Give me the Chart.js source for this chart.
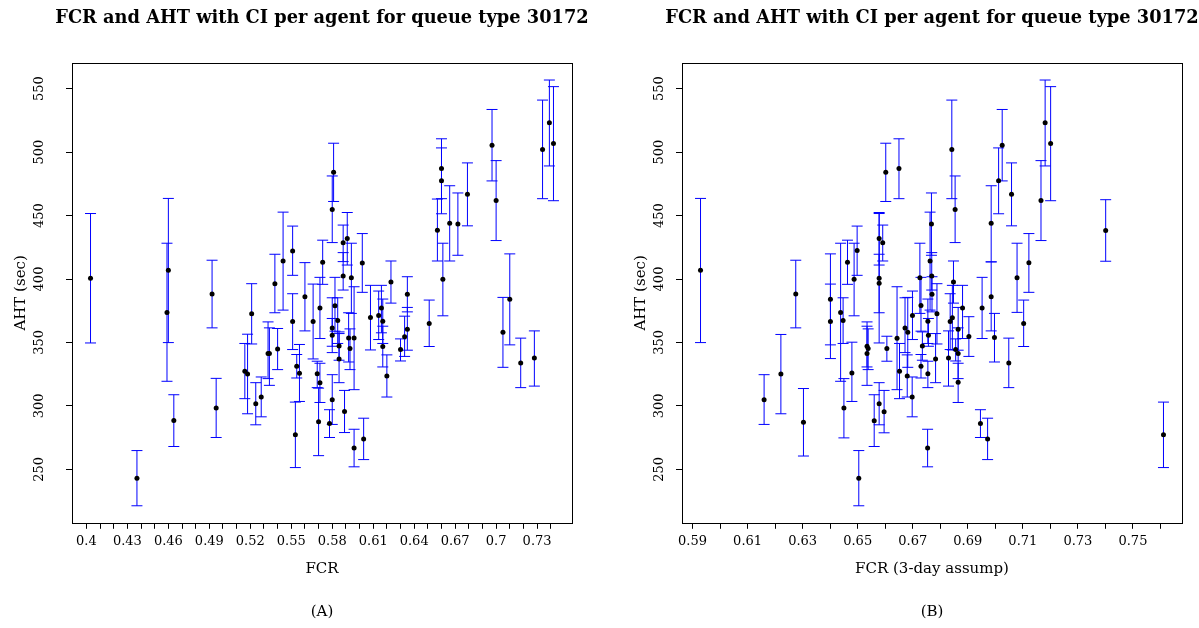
<!DOCTYPE html>
<html>
<head>
<meta charset="utf-8">
<script src="https://cdn.jsdelivr.net/npm/chart.js@4.4.1/dist/chart.umd.min.js"></script>
<style>
  body { margin: 0; background: #fff; }
  canvas { position: absolute; top: 0; }
  #chartA { left: 0; }
  #chartB { left: 600px; }
</style>
</head>
<body>
<canvas id="chartA" width="600" height="628"></canvas>
<canvas id="chartB" width="599" height="628"></canvas>
<script>
const titleText = "FCR and AHT with CI per agent for queue type 30172";
const yTicks = [250, 300, 350, 400, 450, 500, 550];

// (A) FCR
const fcrA = [0.403, 0.460, 0.459, 0.437, 0.464, 0.492, 0.495, 0.516, 0.518, 0.521,
  0.524, 0.528, 0.533, 0.534, 0.538, 0.540, 0.544, 0.551, 0.551, 0.554,
  0.556, 0.553, 0.560, 0.566, 0.569, 0.571, 0.571, 0.573, 0.570, 0.581,
  0.580, 0.582, 0.580, 0.580, 0.580, 0.578, 0.584, 0.585, 0.585, 0.588,
  0.591, 0.588, 0.594, 0.592, 0.596, 0.593, 0.589, 0.596, 0.603, 0.602,
  0.608, 0.614, 0.616, 0.617, 0.617, 0.620, 0.623, 0.630, 0.633, 0.635,
  0.635, 0.651, 0.657, 0.660, 0.660, 0.661, 0.666, 0.672, 0.679, 0.697,
  0.700, 0.705, 0.710, 0.718, 0.728, 0.734, 0.739, 0.742];
const ahtA = [400.6, 406.9, 373.7, 242.9, 288.5, 388.1, 298.3, 327.3, 325.1, 372.6,
  301.7, 307.0, 341.3, 341.3, 396.3, 344.9, 414.2, 422.1, 366.6, 331.2,
  325.7, 277.2, 386.0, 366.6, 325.4, 318.3, 377.1, 413.2, 287.5, 484.1,
  454.8, 378.9, 361.3, 355.7, 304.9, 286.1, 367.3, 347.3, 337.0, 428.5,
  431.9, 402.4, 401.0, 353.6, 353.6, 345.2, 295.6, 266.9, 274.0, 412.7,
  369.7, 371.3, 377.1, 366.8, 346.8, 323.5, 397.6, 344.4, 354.4, 360.5,
  387.9, 365.0, 438.5, 477.5, 487.0, 399.8, 444.0, 443.3, 466.7, 505.4,
  461.9, 358.1, 384.0, 333.8, 337.8, 502.0, 523.1, 506.8];
const loA = [349.6, 349.9, 319.4, 221.3, 268.0, 361.5, 275.1, 305.7, 293.8, 348.8,
  285.1, 291.4, 321.5, 316.2, 373.4, 328.6, 375.5, 402.9, 344.4, 322.0,
  303.5, 251.4, 359.1, 337.0, 314.4, 302.7, 353.1, 395.8, 260.8, 461.1,
  428.7, 358.9, 342.0, 347.0, 285.4, 275.1, 349.2, 336.0, 318.3, 413.7,
  411.0, 391.3, 372.9, 334.6, 312.8, 328.6, 279.0, 252.0, 257.7, 389.5,
  344.1, 352.3, 357.6, 349.2, 330.7, 307.0, 381.0, 335.4, 339.0, 343.9,
  374.1, 346.8, 414.2, 451.4, 463.3, 371.0, 414.2, 418.7, 441.9, 477.3,
  430.3, 330.4, 348.1, 314.4, 315.6, 463.3, 489.1, 461.7];
const hiA = [451.6, 463.5, 428.2, 264.8, 308.8, 414.8, 321.7, 349.2, 356.5, 396.3,
  318.3, 322.8, 366.2, 361.5, 419.5, 361.0, 452.7, 441.7, 388.4, 340.5,
  348.4, 303.0, 412.9, 396.0, 335.2, 333.6, 401.3, 430.6, 314.0, 507.0,
  481.2, 401.3, 385.2, 368.9, 324.6, 297.0, 385.2, 358.3, 357.0, 442.5,
  452.4, 420.8, 428.2, 373.4, 393.9, 360.7, 312.2, 281.6, 290.3, 435.8,
  395.0, 390.5, 395.0, 384.2, 362.8, 340.2, 414.2, 352.8, 370.7, 377.6,
  401.8, 383.4, 463.0, 503.3, 510.5, 428.2, 473.5, 467.8, 491.5, 533.6,
  493.3, 385.5, 419.8, 353.4, 359.1, 541.0, 556.8, 551.6];
const xLabelsA = [0.4, 0.43, 0.46, 0.49, 0.52, 0.55, 0.58, 0.61, 0.64, 0.67, 0.7, 0.73];

// (B) FCR, 3-day assumption
const fcrB = [0.5929, 0.6160, 0.6221, 0.6275, 0.6303, 0.6401, 0.6401, 0.6438, 0.6447, 0.6450,
  0.6463, 0.6479, 0.6487, 0.6498, 0.6504, 0.6534, 0.6538, 0.6534, 0.6560, 0.6578,
  0.6596, 0.6578, 0.6591, 0.6578, 0.6578, 0.6602, 0.6606, 0.6650, 0.6643, 0.6652,
  0.6672, 0.6682, 0.6680, 0.6698, 0.6699, 0.6726, 0.6730, 0.6735, 0.6730, 0.6755,
  0.6755, 0.6757, 0.6754, 0.6763, 0.6768, 0.6769, 0.6770, 0.6788, 0.6783, 0.6842,
  0.6854, 0.6848, 0.6836, 0.6844, 0.6830, 0.6856, 0.6865, 0.6865, 0.6865, 0.6881,
  0.6904, 0.6952, 0.6946, 0.6972, 0.6985, 0.6985, 0.6997, 0.7012, 0.7025, 0.7059,
  0.7049, 0.7079, 0.7103, 0.7122, 0.7166, 0.7181, 0.7201, 0.7401, 0.7611];
const ahtB = [406.9, 304.9, 325.1, 388.1, 287.2, 384.0, 366.6, 373.7, 367.3, 298.3,
  413.2, 325.9, 399.8, 422.4, 242.9, 347.0, 345.2, 341.3, 288.3, 301.7,
  295.4, 431.9, 428.5, 400.6, 396.6, 484.1, 345.2, 487.0, 353.4, 327.3,
  361.3, 358.1, 323.5, 307.0, 371.3, 401.0, 379.2, 347.3, 331.2, 366.8,
  325.4, 355.7, 266.9, 414.2, 443.3, 402.4, 387.9, 372.6, 337.0, 502.0,
  454.8, 397.6, 366.6, 369.4, 337.8, 344.4, 360.5, 341.3, 318.6, 377.1,
  354.7, 377.1, 286.1, 274.0, 444.0, 386.0, 353.9, 477.5, 505.4, 466.7,
  333.8, 401.0, 365.0, 412.9, 461.9, 523.1, 506.8, 438.2, 277.2];
const loB = [349.9, 285.4, 293.8, 361.5, 260.5, 348.1, 337.3, 319.4, 349.2, 274.8,
  395.8, 303.5, 371.0, 402.9, 221.3, 330.7, 328.6, 316.2, 268.0, 285.1,
  278.8, 411.0, 414.2, 349.6, 373.4, 461.1, 335.2, 463.3, 312.8, 305.7,
  342.0, 330.4, 307.0, 291.4, 352.3, 372.9, 358.9, 336.0, 322.0, 349.2,
  314.4, 347.0, 252.0, 375.5, 418.7, 391.3, 374.1, 348.8, 318.3, 463.3,
  428.7, 381.0, 344.4, 344.1, 315.6, 335.4, 343.9, 321.5, 302.7, 353.1,
  339.0, 353.1, 275.1, 257.7, 413.5, 359.1, 334.6, 451.4, 477.3, 441.9,
  314.4, 373.7, 346.8, 389.5, 430.3, 489.1, 461.7, 414.0, 251.4];
const hiB = [463.5, 324.6, 356.3, 414.8, 313.7, 419.8, 396.0, 428.2, 385.2, 321.5,
  430.6, 350.2, 428.2, 441.7, 264.8, 362.8, 360.7, 366.2, 308.8, 318.3,
  312.2, 452.4, 442.5, 451.6, 419.5, 507.0, 354.9, 510.5, 393.9, 349.2,
  385.2, 385.5, 340.2, 322.8, 390.5, 428.2, 401.3, 358.3, 340.5, 384.2,
  335.2, 368.9, 281.6, 452.7, 467.8, 420.8, 401.8, 396.3, 357.0, 541.0,
  481.2, 414.2, 388.4, 395.0, 359.1, 352.8, 377.6, 361.5, 333.6, 395.0,
  370.3, 401.3, 297.0, 290.3, 473.5, 413.5, 372.9, 503.3, 533.6, 491.5,
  353.4, 428.2, 383.4, 435.8, 493.3, 556.8, 551.6, 462.5, 303.0];
const xLabelsB = [0.59, 0.61, 0.63, 0.65, 0.67, 0.69, 0.71, 0.73, 0.75];

Chart.defaults.color = "#000";
Chart.defaults.font.family = "DejaVu Serif";

// R-style 4% padding around the data
function padRange(lo, hi) {
  const d = (hi - lo) * 0.04;
  return [lo - d, hi + d];
}

const yRange = padRange(Math.min(...loA, ...loB), Math.max(...hiA, ...hiB));

const errorBars = {
  id: "errorBars",
  beforeDatasetsDraw(chart) {
    const { ctx, scales: { x, y } } = chart;
    ctx.save();
    ctx.strokeStyle = "#0000ff";
    ctx.lineWidth = 1;
    chart.data.datasets[0].data.forEach(p => {
      const px = x.getPixelForValue(p.x);
      const top = y.getPixelForValue(p.hi);
      const bot = y.getPixelForValue(p.lo);
      ctx.beginPath();
      ctx.moveTo(px, top); ctx.lineTo(px, bot);
      ctx.moveTo(px - 5.5, top); ctx.lineTo(px + 5.5, top);
      ctx.moveTo(px - 5.5, bot); ctx.lineTo(px + 5.5, bot);
      ctx.stroke();
    });
    ctx.restore();
  },
  afterDraw(chart) {
    const { ctx, chartArea: a } = chart;
    ctx.save();
    ctx.strokeStyle = "#000";
    ctx.lineWidth = 1;
    ctx.strokeRect(Math.round(a.left) + 0.5, Math.round(a.top) + 0.5,
      Math.round(a.right - a.left), Math.round(a.bottom - a.top));
    // panel heading, centred over the plot box (wider than the box, so not clipped)
    ctx.fillStyle = "#000";
    ctx.font = "bold 17.8px 'DejaVu Serif'";
    ctx.textAlign = "center";
    ctx.textBaseline = "middle";
    ctx.fillText(titleText, (a.left + a.right) / 2, 18);
    ctx.restore();
  }
};

function makeChart(id, fcr, aht, lo, hi, xLabels, xFrom, xTo, xTitle, panel, geo) {
  const xRange = padRange(Math.min(...fcr), Math.max(...fcr));
  const xTicks = [];
  for (let v = Math.round(xFrom * 100); v <= Math.round(xTo * 100); v++) xTicks.push(v / 100);

  return new Chart(document.getElementById(id), {
    type: "scatter",
    data: {
      datasets: [{
        data: fcr.map((x, i) => ({ x, y: aht[i], lo: lo[i], hi: hi[i] })),
        backgroundColor: "#000",
        borderWidth: 0,
        pointRadius: 2.5,
        pointHoverRadius: 2.5
      }]
    },
    options: {
      responsive: false,
      animation: false,
      events: [],
      layout: { padding: { left: 0, right: geo.right, top: 63, bottom: 0 } },
      plugins: {
        legend: { display: false },
        tooltip: { enabled: false },
        title: { display: false },
        subtitle: {
          display: true, text: panel, position: "bottom", fullSize: false,
          font: { size: 15, lineHeight: 1.2 },
          padding: { top: 0, bottom: 7 }
        }
      },
      scales: {
        x: {
          type: "linear",
          min: xRange[0], max: xRange[1],
          afterBuildTicks: s => { s.ticks = xTicks.map(v => ({ value: v })); },
          afterFit: s => { s.height = 80.2; },
          grid: { drawOnChartArea: false, tickLength: 6, color: "#000" },
          border: { display: false },
          ticks: {
            autoSkip: false, maxRotation: 0, minRotation: 0, padding: 5.2,
            font: { size: 13, lineHeight: 1.2 },
            callback: v => {
              const hit = xLabels.find(l => Math.abs(l - v) < 1e-6);
              return hit === undefined ? "" : String(hit);
            }
          },
          title: {
            display: true, text: xTitle,
            font: { size: 15, lineHeight: 1.2 },
            padding: { top: 0, bottom: 25.2 }
          }
        },
        y: {
          min: yRange[0], max: yRange[1],
          afterBuildTicks: s => { s.ticks = yTicks.map(v => ({ value: v })); },
          afterFit: s => { s.width = geo.yWidth; },
          grid: { drawOnChartArea: false, tickLength: 6, color: "#000" },
          border: { display: false },
          ticks: {
            minRotation: 90, maxRotation: 90, crossAlign: "center",
            padding: geo.yTickPad,
            font: { size: 13, lineHeight: 1.2 },
            callback: v => String(v)
          },
          title: {
            display: true, text: "AHT (sec)",
            font: { size: 15, lineHeight: 1.2 },
            padding: { top: geo.yTitlePad, bottom: 0 }
          }
        }
      }
    },
    plugins: [errorBars]
  });
}

makeChart("chartA", fcrA, ahtA, loA, hiA, xLabelsA, 0.40, 0.74, "FCR", "(A)",
  { right: 28, yWidth: 72, yTickPad: 13.6, yTitlePad: 12 });
makeChart("chartB", fcrB, ahtB, loB, hiB, xLabelsB, 0.59, 0.76, "FCR (3-day assump)", "(B)",
  { right: 17, yWidth: 82, yTickPad: 3.6, yTitlePad: 32 });
</script>
</body>
</html>
